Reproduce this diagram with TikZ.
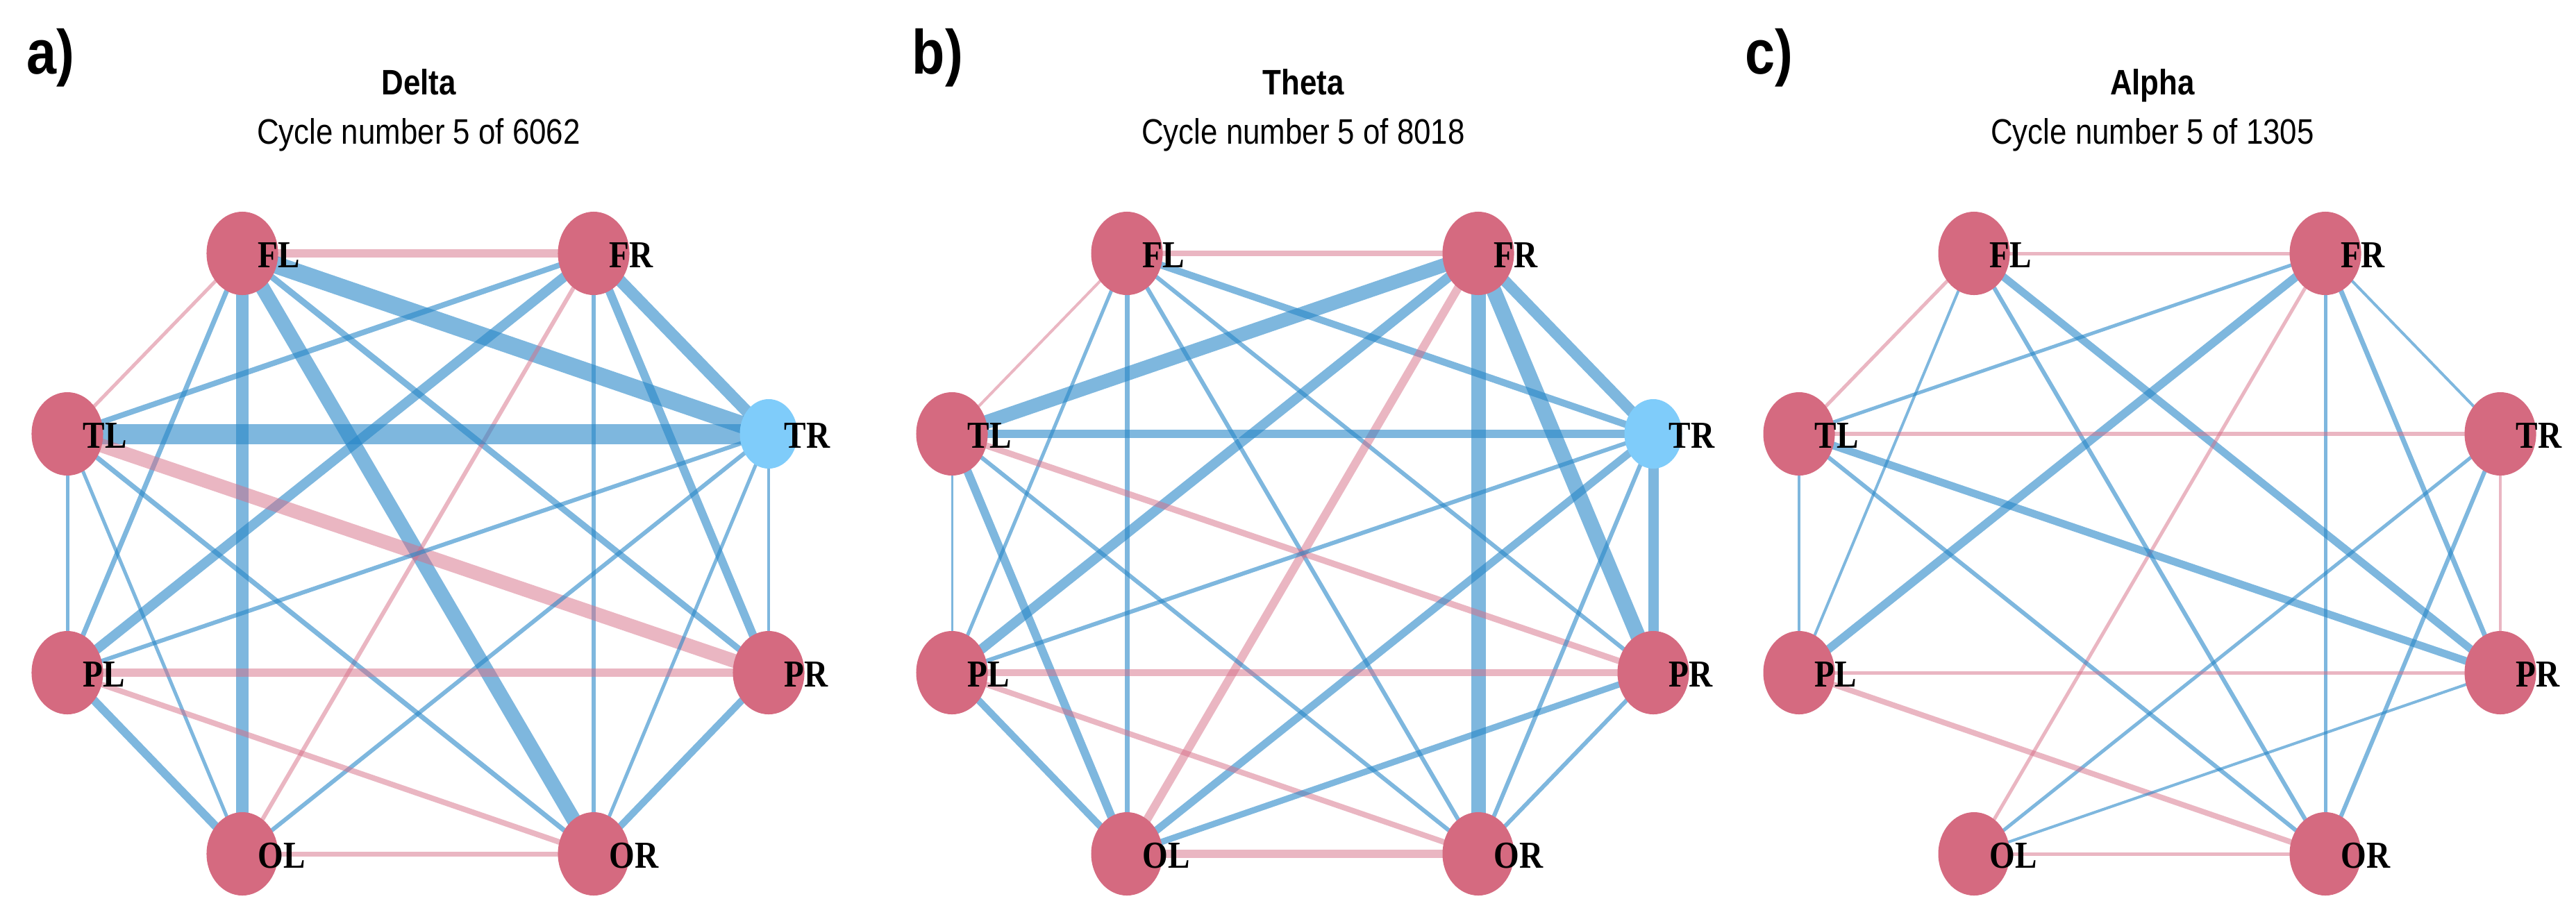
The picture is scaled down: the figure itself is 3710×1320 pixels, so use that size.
\documentclass[tikz,border=0pt]{standalone}
\usepackage{fontspec}
\setmainfont{Liberation Serif}
\newfontfamily\labfont[FakeStretch=0.86]{Liberation Serif}
\newfontfamily\hfont[FakeStretch=0.86]{Liberation Sans}
\usetikzlibrary{shapes.geometric}
\pgfdeclarelayer{bg}
\pgfsetlayers{bg,main}
\definecolor{nodepink}{RGB}{213,106,128}
\definecolor{nodeblue}{RGB}{127,204,250}
\definecolor{edgeblue}{RGB}{40,135,200}
\definecolor{edgepink}{RGB}{215,110,135}
\tikzset{
  vtx/.style={ellipse, fill=nodepink, draw=none, minimum width=1.03cm, minimum height=1.2cm, inner sep=0pt},
  vtxs/.style={ellipse, fill=nodeblue, draw=none, minimum width=0.83cm, minimum height=1.0cm, inner sep=0pt},
  vlab/.style={anchor=west, inner sep=0pt, font=\labfont\bfseries\fontsize{15.6pt}{18pt}\selectfont},
  bedge/.style={draw=edgeblue, draw opacity=0.6},
  pedge/.style={draw=edgepink, draw opacity=0.5},
  ttl/.style={anchor=base, inner sep=0pt, font=\hfont\bfseries\fontsize{14.5pt}{17pt}\selectfont},
  subttl/.style={anchor=base, inner sep=0pt, font=\hfont\fontsize{14.5pt}{17pt}\selectfont},
  plet/.style={anchor=base west, inner sep=0pt, font=\hfont\bfseries\fontsize{25.6pt}{30pt}\selectfont},
}
\newcommand\mypanel[3]{%
  \begin{scope}[xshift=#2*0.01cm]
    \node[vtx] (#1FL) at (349,365) {};
    \node[vtx] (#1FR) at (855,365) {};
    \node[vtx] (#1TL) at (97,625) {};
    \node[#3] (#1TR) at (1107,625) {};
    \node[vtx] (#1PL) at (97,969) {};
    \node[vtx] (#1PR) at (1107,969) {};
    \node[vtx] (#1OL) at (349,1230) {};
    \node[vtx] (#1OR) at (855,1230) {};
  \end{scope}
  \foreach \xn in {FL,FR,TL,TR,PL,PR,OL,OR}{
    \node[vlab] (#1\xn lab) at ([xshift=0.22cm, yshift=-0.03cm]#1\xn.center) {\xn};
  }
}
\newcommand\myedges[2]{%
  \begin{pgfonlayer}{bg}
    \foreach \xa/\xb/\xw/\xs in {#2}{
      \draw[\xs, line width=\xw*0.28453pt] (#1\xa.center) -- (#1\xb.center);
    }
  \end{pgfonlayer}
}
\begin{document}
\begin{tikzpicture}[x=0.01cm, y=-0.01cm]
\useasboundingbox (0,0) rectangle (3710,1320);
\begin{pgfonlayer}{bg}
  \fill[white] (0,0) rectangle (3710,1320);
\end{pgfonlayer}

% titles
\node[plet] (la) at (38,106) {a)};
\node[plet] (lb) at (1313,106) {b)};
\node[plet] (lc) at (2513,106) {c)};
\node[ttl] (ta) at (603,136) {Delta};
\node[subttl] (sa) at (603,207) {Cycle number 5 of 6062};
\node[ttl] (tb) at (1877,136) {Theta};
\node[subttl] (sb) at (1877,207) {Cycle number 5 of 8018};
\node[ttl] (tc) at (3100,136) {Alpha};
\node[subttl] (sc) at (3100,207) {Cycle number 5 of 1305};

% panel a
\mypanel{a}{0}{vtxs}
\myedges{a}{FL/FR/12/pedge, FL/TL/5/pedge, FL/TR/25/bedge, FL/OL/18/bedge,
  FL/OR/21/bedge, FL/PL/7/bedge, FL/PR/9/bedge,
  FR/TL/8/bedge, FR/PL/14/bedge, FR/OL/6/pedge, FR/OR/6/bedge, FR/TR/17/bedge, FR/PR/12/bedge,
  TL/TR/29/bedge, TL/PR/20/pedge, TL/PL/5/bedge, TL/OL/5/bedge, TL/OR/7/bedge,
  TR/PL/6/bedge, TR/OL/6/bedge, TR/OR/5/bedge, TR/PR/4/bedge,
  PL/PR/12/pedge, PL/OL/12/bedge, PL/OR/8/pedge,
  PR/OR/10/bedge, OL/OR/7/pedge}

% panel b
\mypanel{b}{1274}{vtxs}
\myedges{b}{FL/FR/8/pedge, FL/TL/4/pedge, FL/PL/5/bedge, FL/OL/7/bedge,
  FL/OR/6/bedge, FL/PR/6/bedge, FL/TR/10/bedge,
  FR/TL/20/bedge, FR/PL/14/bedge, FR/OL/12/pedge, FR/OR/21/bedge, FR/PR/22/bedge, FR/TR/16/bedge,
  TL/TR/12/bedge, TL/PR/9/pedge, TL/PL/3/bedge, TL/OL/12/bedge, TL/OR/6/bedge,
  TR/PR/15/bedge, TR/PL/6/bedge, TR/OL/11/bedge, TR/OR/6/bedge,
  PL/PR/10/pedge, PL/OL/10/bedge, PL/OR/8/pedge,
  PR/OL/9/bedge, PR/OR/6/bedge, OL/OR/12/pedge}

% panel c
\mypanel{c}{2494}{vtx}
\myedges{c}{FL/FR/5/pedge, FL/TL/5/pedge, FL/PL/4/bedge, FL/OR/6/bedge, FL/PR/11/bedge,
  FR/TL/5/bedge, FR/PL/12/bedge, FR/OL/5/pedge, FR/OR/5/bedge, FR/PR/7/bedge, FR/TR/4/bedge,
  TL/TR/6/pedge, TL/PR/11/bedge, TL/PL/4/bedge, TL/OR/6/bedge,
  TR/PR/4/pedge, TR/OL/5/bedge, TR/OR/6/bedge,
  PL/PR/5/pedge, PL/OR/8/pedge,
  PR/OL/4/bedge, OL/OR/5/pedge}
\end{tikzpicture}
\end{document}
